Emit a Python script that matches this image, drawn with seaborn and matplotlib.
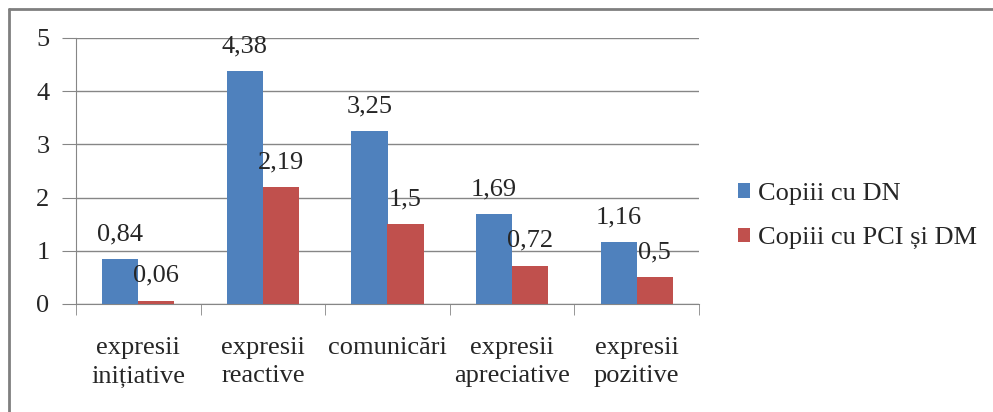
import numpy as np
import pandas as pd
import matplotlib.pyplot as plt
import seaborn as sns
from matplotlib.lines import Line2D

categories = ["expresii\ninițiative", "expresii\nreactive", "comunicări",
              "expresii\napreciative", "expresii\npozitive"]
series = ["Copiii cu DN", "Copiii cu PCI și DM"]
values_dn = [0.84, 4.38, 3.25, 1.69, 1.16]
values_pci = [0.06, 2.19, 1.5, 0.72, 0.5]
colors = ["#4F81BD", "#C0504D"]


def main():
    data = pd.DataFrame({
        "categorie": categories * 2,
        "grup": [series[0]] * 5 + [series[1]] * 5,
        "valoare": values_dn + values_pci,
    })

    sns.set_style("white")
    plt.rcParams["font.family"] = ["Liberation Serif", "DejaVu Serif"]
    fs = 19

    fig = plt.figure(figsize=(9.93, 4.12), dpi=100)
    ax = fig.add_axes([76 / 993, 1 - 304 / 412, 623 / 993, 266 / 412])

    sns.barplot(data=data, x="categorie", y="valoare", hue="grup",
                palette=colors, width=0.58, gap=0, saturation=1,
                edgecolor="none", linewidth=0, ax=ax, zorder=3)

    # data labels, comma decimal like the original
    for cont in ax.containers:
        labels = [f"{v:g}".replace(".", ",") for v in cont.datavalues]
        ax.bar_label(cont, labels=labels, padding=10, fontsize=fs, zorder=4)

    ax.set_ylim(0, 5)
    ax.set_xlim(-0.5, 4.5)
    ax.set_yticks(range(6))
    ax.yaxis.grid(True, color="#868686", linewidth=1, zorder=0)
    ax.set_xlabel("")
    ax.set_ylabel("")

    for s in ["top", "right"]:
        ax.spines[s].set_visible(False)
    ax.spines["left"].set_color("#868686")
    ax.spines["bottom"].set_color("#868686")

    ax.tick_params(axis="y", length=10, color="#868686", labelsize=fs, pad=9, left=True)
    ax.tick_params(axis="x", which="major", length=0, labelsize=fs, pad=23.5)
    ax.set_xticks(np.arange(-0.5, 5, 1), minor=True)
    ax.tick_params(axis="x", which="minor", length=8, color="#868686", bottom=True)
    for t in ax.get_xticklabels():
        t.set_linespacing(1.4)

    ax.legend(loc="center left", bbox_to_anchor=(1.025, 0.33), frameon=False,
              fontsize=fs, handlelength=0.45, handleheight=0.45,
              handletextpad=0.3, labelspacing=0.85)

    # outer chart border (only top and left are visible)
    fig.add_artist(Line2D([9 / 993, 1], [1 - 9 / 412, 1 - 9 / 412],
                          transform=fig.transFigure, color="#7F7F7F", linewidth=2))
    fig.add_artist(Line2D([9 / 993, 9 / 993], [0, 1 - 9 / 412],
                          transform=fig.transFigure, color="#7F7F7F", linewidth=2))

    fig.savefig("out.png", dpi=100)


if __name__ == '__main__':
    main()
